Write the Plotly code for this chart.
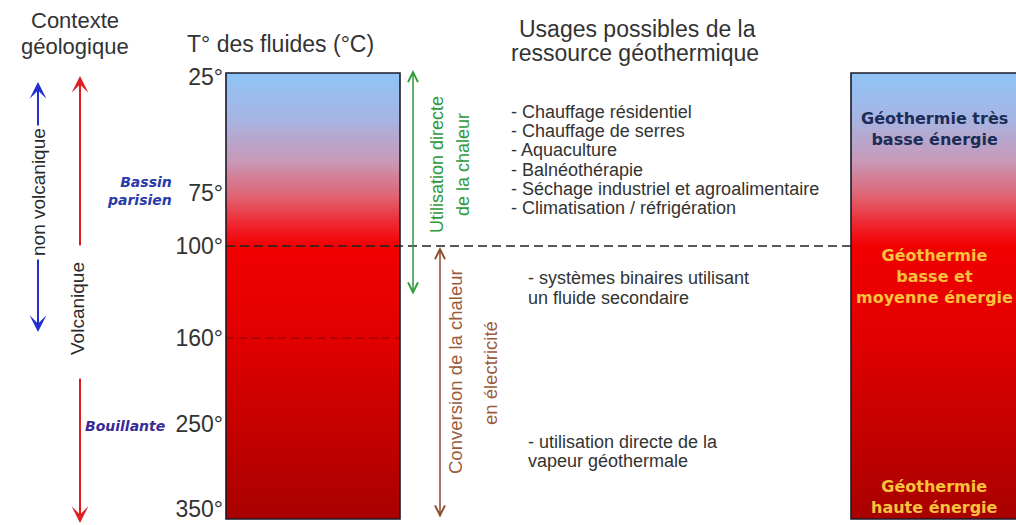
import numpy as np
import plotly.graph_objects as go

# ---------------- data ----------------
temp_labels = ["25°", "75°", "100°", "160°", "250°", "350°"]
usages_direct = ["- Chauffage résidentiel", "- Chauffage de serres", "- Aquaculture",
                 "- Balnéothérapie", "- Séchage industriel et agroalimentaire",
                 "- Climatisation / réfrigération"]
usages_binary = ["- systèmes binaires utilisant", "un fluide secondaire"]
usages_steam = ["- utilisation directe de la", "vapeur géothermale"]
energy_very_low = ["Géothermie très", "basse énergie"]
energy_low_mid = ["Géothermie", "basse et", "moyenne énergie"]
energy_high = ["Géothermie", "haute énergie"]
site_names = ["Bassin<br>parisien", "Bouillante"]
context_labels = ["non volcanique", "Volcanique"]
use_labels = [["Utilisation directe", "de la chaleur"],
              ["Conversion de la chaleur", "en électricité"]]
titles = [["Contexte", "géologique"], ["T° des fluides (°C)"],
          ["Usages possibles de la", "ressource géothermique"]]

# ---------------- layout (pixel positions) ----------------
W, H = 1016, 525
FONT = "Liberation Sans, Arial, sans-serif"
WIDE = "DejaVu Sans, Verdana, sans-serif"
tick_y = [77, 193, 246, 338, 424, 509]
box_top, box_bot = 73, 519
left_box = (226, 400)
right_box = (851, 1030)

grad_scale = [
    [0.00, "#8ec4f6"], [0.10, "#a6b5e4"], [0.20, "#c898b6"], [0.28, "#e2606e"],
    [0.35, "#f01c24"], [0.39, "#f20000"], [0.60, "#e00000"], [1.00, "#a80000"],
]

fig = go.Figure()

n = 220
yedges = np.linspace(box_top, box_bot, n + 1)
frac = ((yedges[:-1] + yedges[1:]) / 2 - box_top) / (box_bot - box_top)
for bx in (left_box, right_box):
    fig.add_trace(go.Heatmap(x=list(bx), y=yedges, z=frac.reshape(-1, 1),
                             colorscale=grad_scale, zmin=0, zmax=1,
                             showscale=False, hoverinfo="skip"))

# temperature tick labels via a free axis
fig.add_trace(go.Scatter(x=[left_box[0]] * len(tick_y), y=tick_y, yaxis="y2",
                         mode="markers", marker=dict(opacity=0), hoverinfo="skip",
                         showlegend=False))

# box borders
fig.add_shape(type="rect", x0=left_box[0], x1=left_box[1], y0=box_top, y1=box_bot,
              line=dict(color="#1a1a2a", width=1.6), layer="above")
fig.add_shape(type="rect", x0=right_box[0], x1=right_box[1], y0=box_top, y1=box_bot,
              line=dict(color="#1a1a2a", width=1.6), layer="above")
# dashed lines
fig.add_shape(type="line", x0=left_box[0], x1=right_box[0], y0=246, y1=246,
              line=dict(color="#222", width=1.3, dash="9px,5px"), layer="above")
fig.add_shape(type="line", x0=left_box[0], x1=left_box[1], y0=338, y1=338,
              line=dict(color="rgba(90,0,0,0.7)", width=1, dash="8px,5px"), layer="above")


def ann(text, x, y, size, color, angle=0, xanchor="center", bold=False, italic=False,
        family=FONT):
    if italic:
        text = "<i>" + text + "</i>"
    if bold:
        text = "<b>" + text + "</b>"
    fig.add_annotation(x=x, y=y, xref="x", yref="y", text=text, showarrow=False,
                       textangle=angle, xanchor=xanchor, yanchor="middle",
                       font=dict(family=family, size=size, color=color),
                       align=xanchor if xanchor != "center" else "center")


def arrow(x, y_tail, y_head, color, width, head, size, both=False):
    fig.add_annotation(x=x, y=y_head, ax=x, ay=y_tail, xref="x", yref="y",
                       axref="x", ayref="y", text="", showarrow=True,
                       arrowhead=head, arrowsize=size, arrowwidth=width,
                       arrowcolor=color, arrowside="end+start" if both else "end",
                       startarrowhead=head, startarrowsize=size)


# titles
ann(titles[0][0], 75, 20, 22, "#333")
ann(titles[0][1], 75, 46, 22, "#333")
ann(titles[1][0], 280, 44, 23, "#333")
ann(titles[2][0], 637, 29, 23, "#333")
ann(titles[2][1], 635, 53, 23, "#333")

# geological context arrows
arrow(38, 127, 82, "#1f2fd0", 2, 3, 1.4)
arrow(38, 258, 332, "#1f2fd0", 2, 3, 1.4)
ann(context_labels[0], 38, 192, 19, "#2a2a2a", angle=-90)
arrow(80, 247, 76, "#e02020", 2, 3, 1.4)
arrow(80, 377, 523, "#e02020", 2, 3, 1.4)
ann(context_labels[1], 77, 309, 19, "#2a2a2a", angle=-90)

# sites
ann(site_names[0], 174, 191, 14, "#2a3aa8", xanchor="right", bold=True, italic=True,
    family=WIDE)
ann(site_names[1], 167, 426, 14, "#3a2a98", xanchor="right", bold=True, italic=True,
    family=WIDE)

# usage arrows
arrow(413, 296, 70, "#2e9a3a", 1.5, 5, 1.3, both=True)
ann(use_labels[0][0], 437, 165, 18, "#2e9a3a", angle=-90)
ann(use_labels[0][1], 463, 165, 18, "#2e9a3a", angle=-90)
arrow(440, 519, 247, "#8b4c2c", 1.5, 5, 1.3, both=True)
ann(use_labels[1][0], 455, 372, 18.5, "#9a5a3a", angle=-90)
ann(use_labels[1][1], 490, 373, 18.5, "#9a5a3a", angle=-90)

# usage texts
for i, t in enumerate(usages_direct):
    ann(t, 509, 112 + i * 19.2, 18, "#333", xanchor="left")
for i, t in enumerate(usages_binary):
    ann(t, 526, 278 + i * 20, 18, "#333", xanchor="left")
for i, t in enumerate(usages_steam):
    ann(t, 526, 442 + i * 19, 18, "#333", xanchor="left")

# energy classes
ann("<br>".join(energy_very_low), 934, 129, 16, "#1c2c55", bold=True, family=WIDE)
ann("<br>".join(energy_low_mid), 934, 276, 16, "#f8c23a", bold=True, family=WIDE)
ann("<br>".join(energy_high), 934, 497, 16, "#f8c23a", bold=True, family=WIDE)

fig.update_layout(
    width=W, height=H, margin=dict(l=0, r=0, t=0, b=0),
    paper_bgcolor="white", plot_bgcolor="white", showlegend=False,
    xaxis=dict(range=[0, W], visible=False, fixedrange=True),
    yaxis=dict(range=[H, 0], visible=False, fixedrange=True),
    yaxis2=dict(range=[H, 0], overlaying="y", anchor="free",
                position=left_box[0] / W, tickvals=tick_y, ticktext=temp_labels,
                showgrid=False, zeroline=False, showline=False, ticks="",
                ticklabelstandoff=3,
                tickfont=dict(family=FONT, size=23, color="#333"), fixedrange=True),
)

fig.write_html("out.html", post_script="document.body.style.margin='0px';",
               config={"displayModeBar": False})
